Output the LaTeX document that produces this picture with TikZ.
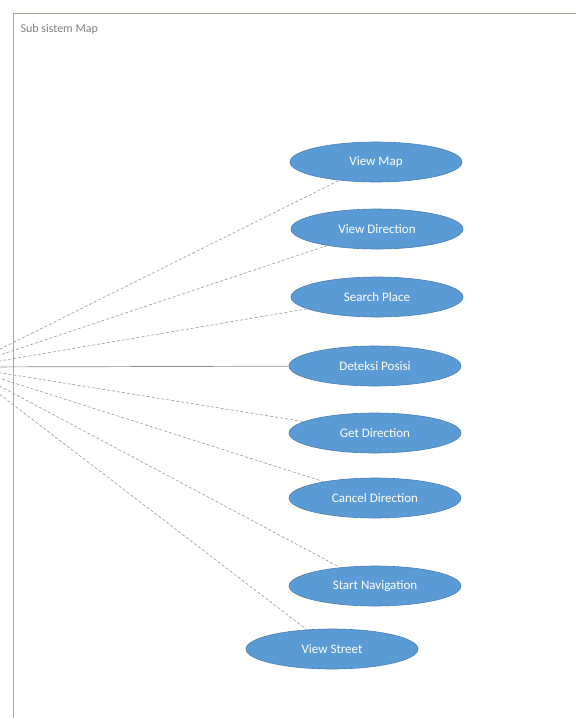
\documentclass[tikz,border=0pt]{standalone}
\usepackage{fontspec}
\setmainfont{Carlito}
\usetikzlibrary{shapes.geometric}

\definecolor{ucblue}{HTML}{5B9BD5}
\definecolor{ucline}{HTML}{4A7EB5}
\definecolor{framegray}{HTML}{A8A894}

\tikzset{
  usecase/.style={ellipse, fill=ucblue, draw=ucline, line width=0.6pt,
    minimum width=172pt, minimum height=40pt, text=white, font=\fontsize{13}{15}\selectfont},
  link/.style={draw=gray!80, line width=0.6pt, dash pattern=on 3pt off 2pt},
  solidlink/.style={draw=gray!90, line width=0.7pt}
}

\begin{document}
\begin{tikzpicture}[x=1pt, y=-1pt]
                        \useasboundingbox (0, 0) rectangle (576, 718);
                        \clip (0, 0) rectangle (576, 718);
                        \draw[framegray, line width=0.8pt] (576, 13) -- (13, 13) -- (13, 718);
                        \node[anchor=west, text=gray, font=\fontsize{12}{14}\selectfont] (title) at (17, 29) {Sub sistem Map};
                        \coordinate (actor) at (-36, 367);
                        \node[usecase] (vm) at (376, 162) {View Map};
                        \node[usecase] (vd) at (377, 229) {View Direction};
                        \node[usecase] (sp) at (377, 297) {Search Place};
                        \node[usecase] (dp) at (375, 366) {Deteksi Posisi};
                        \node[usecase] (gd) at (375, 433) {Get Direction};
                        \node[usecase] (cd) at (375, 498) {Cancel Direction};
                        \node[usecase] (sn) at (375, 586) {Start Navigation};
                        \node[usecase] (vs) at (332, 649) {View Street};
                        \draw[link]
                        (actor) -- (vm)
                        (actor) -- (vd)
                        (actor) -- (sp)
                        (actor) -- (gd)
                        (actor) -- (cd)
                        (actor) -- (sn)
                        (actor) -- (vs);
                        \draw[solidlink] (actor) -- (dp);
                    \end{tikzpicture}
\end{document}
